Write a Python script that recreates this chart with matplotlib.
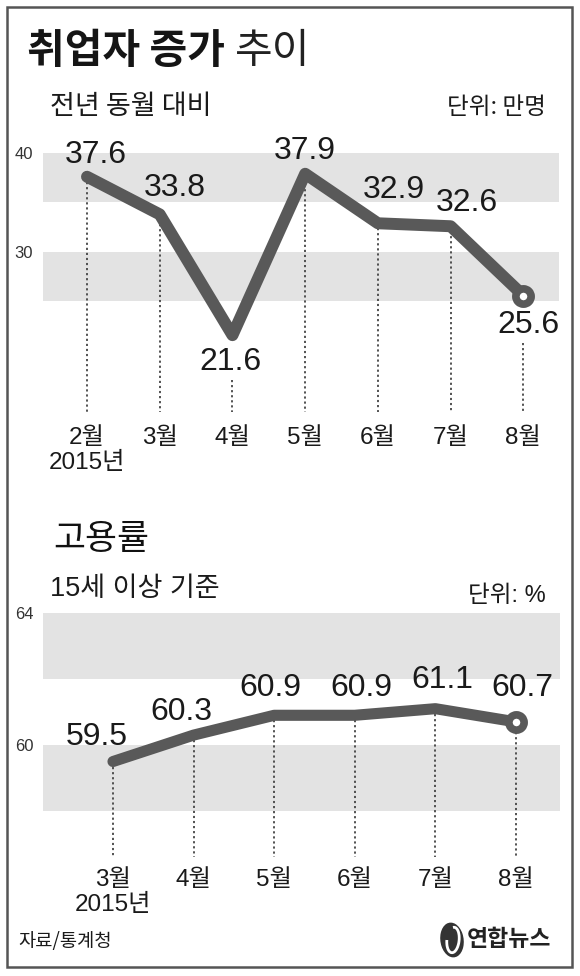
import matplotlib
matplotlib.use("Agg")
import matplotlib.pyplot as plt
from matplotlib import font_manager
from matplotlib.patches import Rectangle, Ellipse, Arc

# 데이터
months_top = ['2월\n2015년', '3월', '4월', '5월', '6월', '7월', '8월']
jobs = [37.6, 33.8, 21.6, 37.9, 32.9, 32.6, 25.6]
yticks_top = [30, 40]
bands_top = [(25, 30), (35, 40)]

months_bot = ['3월\n2015년', '4월', '5월', '6월', '7월', '8월']
rate = [59.5, 60.3, 60.9, 60.9, 61.1, 60.7]
yticks_bot = [60, 64]
bands_bot = [(58, 60), (62, 64)]

# 글꼴
names = {f.name for f in font_manager.fontManager.ttflist}
narrow = 'Liberation Sans Narrow' if 'Liberation Sans Narrow' in names else 'Liberation Sans'
NUM = [narrow, 'Noto Sans CJK KR']
KR = ['Noto Sans CJK KR', 'DejaVu Sans']
plt.rcParams['font.family'] = NUM

W, H = 580, 976
LINE = '#595959'
BAND = '#e3e3e3'
TXT = '#1a1a1a'

fig = plt.figure(figsize=(W / 100, H / 100), dpi=100)


def px_axes(l, t, r, b):
    return fig.add_axes([l / W, 1 - b / H, (r - l) / W, (b - t) / H])


def fx(x):
    return x / W


def fy(y):
    return 1 - y / H


def setup(ax, labels, yticks, bands, xlim, ylim, xpad):
    ax.set_facecolor('none')
    for s in ax.spines.values():
        s.set_visible(False)
    for lo, hi in bands:
        ax.axhspan(lo, hi, color=BAND, lw=0, zorder=0)
    ax.set_xlim(*xlim)
    ax.set_ylim(*ylim)
    ax.set_xticks(range(len(labels)))
    ax.set_xticklabels(labels, fontsize=17.5, color=TXT, linespacing=1.15)
    ax.set_yticks(yticks)
    ax.set_yticklabels([str(v) for v in yticks], fontsize=12, color='#333333')
    ax.tick_params(axis='both', length=0)
    ax.tick_params(axis='x', pad=xpad)
    ax.tick_params(axis='y', pad=7)


def draw_series(ax, vals, offsets, lw):
    xs = list(range(len(vals)))
    ax.plot(xs, vals, color=LINE, lw=lw, solid_capstyle='round',
            solid_joinstyle='round', zorder=3)
    ax.plot(xs[-1], vals[-1], 'o', ms=11, mfc='white', mec=LINE, mew=5.5, zorder=4)
    labels = []
    for x, v, (dx, dy) in zip(xs, vals, offsets):
        t = ax.annotate(f'{v:.1f}', (x, v), xytext=(dx, dy), textcoords='offset points',
                        ha='center', va='center', fontsize=23, color=TXT, zorder=5)
        labels.append(t)
    return xs, labels


def draw_drops(ax, xs, vals, labels, offsets):
    fig.canvas.draw()
    inv = ax.transData.inverted()
    bottom = ax.get_ylim()[0]
    for x, v, t, (dx, dy) in zip(xs, vals, labels, offsets):
        start = v
        if dy < 0:
            bb = t.get_window_extent()
            start = inv.transform((0, bb.y0 - 3))[1]
        ax.plot([x, x], [start, bottom], color='#444444', lw=1.3,
                ls=(0, (1.2, 1.6)), zorder=2)


# 테두리
fig.patches.append(Rectangle((fx(7), fy(967)), fx(565), (967 - 7) / H,
                             transform=fig.transFigure, fill=False,
                             ec='#555555', lw=1.8))

# 제목
t1 = fig.text(fx(27), fy(63), '취업자 증가', fontsize=29.5, weight='bold',
              family=KR, color='#151515', va='baseline')
ax_top = px_axes(43, 140, 559, 412)
ax_top.annotate('추이', xy=(1, 0), xycoords=t1, xytext=(7, 0), textcoords='offset points',
                fontsize=29.5, family=KR, color='#222222', va='bottom', annotation_clip=False)

fig.text(fx(50), fy(106), '전년 동월 대비', fontsize=19.5, family=KR, color=TXT, va='center')
fig.text(fx(546), fy(107), '단위: 만명', fontsize=17, family=KR, color=TXT,
         va='center', ha='right')

# 취업자 증가 차트
setup(ax_top, months_top, yticks_top, bands_top, (-0.605, 6.49), (13.84, 41.31), 11)
off_top = [(6.5, 16), (11, 19), (-1.5, -19.5), (-0.5, 16.5), (11.5, 24), (11.5, 17), (3.5, -21.5)]
xs, labs = draw_series(ax_top, jobs, off_top, 8.6)

# 고용률 차트
fig.text(fx(53), fy(539), '고용률', fontsize=25, family=KR, color='#111111', va='center')
fig.text(fx(50), fy(589), '15세 이상 기준', fontsize=19.5, family=NUM, color=TXT, va='center')
fig.text(fx(546), fy(596), '단위: %', fontsize=17, family=NUM, color=TXT,
         va='center', ha='right')

ax_bot = px_axes(43, 600, 560, 857)
setup(ax_bot, months_bot, yticks_bot, bands_bot, (-0.868, 5.546), (56.61, 64.39), 9)
off_bot = [(-12, 18), (-8.5, 16.5), (-3, 19.5), (5, 20), (5, 21), (4.5, 24.5)]
xs_b, labs_b = draw_series(ax_bot, rate, off_bot, 8)

draw_drops(ax_top, xs, jobs, labs, off_top)
draw_drops(ax_bot, xs_b, rate, labs_b, off_bot)

# 출처 / 로고
fig.text(fx(18), fy(942), '자료/통계청', fontsize=13.5, family=KR, color=TXT, va='center')
fig.patches.append(Ellipse((fx(452), fy(940)), 24 / W, 34 / H, angle=-20,
                           transform=fig.transFigure, fc='#333333', ec='none'))
fig.patches.append(Arc((fx(453), fy(940)), 12 / W, 26 / H, angle=-20, theta1=200, theta2=110,
                       transform=fig.transFigure, color='white', lw=2))
fig.text(fx(467), fy(939), '연합뉴스', fontsize=16.5, weight='bold', family=KR,
         color='#222222', va='center')

fig.savefig('out.png', dpi=100)
